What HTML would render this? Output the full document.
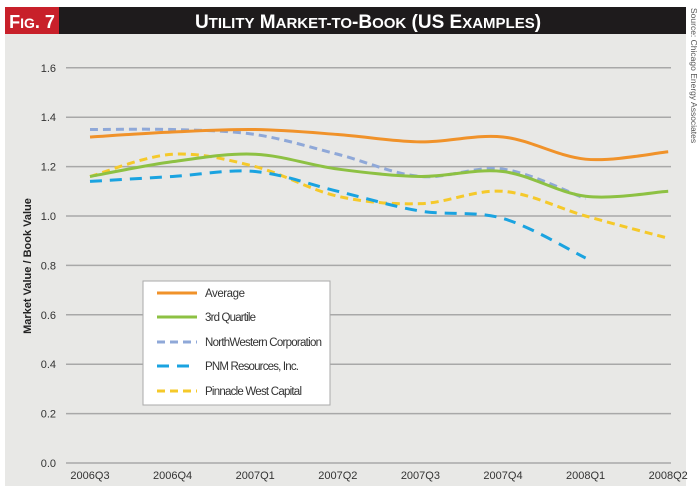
<!DOCTYPE html>
<html><head><style>
body{margin:0;width:700px;height:491px;background:#fff;overflow:hidden;font-family:"Liberation Sans",sans-serif}
</style></head><body>
<svg width="700" height="491" xmlns="http://www.w3.org/2000/svg" id="s">
<rect x="5" y="33" width="681" height="453" fill="#e8e8e6"/>
<rect x="5" y="7" width="681" height="27" fill="#1e1b1c"/>
<rect x="5" y="7" width="54" height="27" fill="#c8202a"/>
<text x="32" y="28" fill="#fff" font-size="18" font-weight="bold" text-anchor="middle" font-family="Liberation Sans Narrow, Liberation Sans, sans-serif">F<tspan font-size="14">IG</tspan>. 7</text>
<text x="368" y="28" fill="#fff" font-size="19" font-weight="bold" text-anchor="middle" font-family="Liberation Sans Narrow, Liberation Sans, sans-serif">U<tspan font-size="15">TILITY</tspan> M<tspan font-size="15">ARKET-TO</tspan>-B<tspan font-size="15">OOK</tspan> (US E<tspan font-size="15">XAMPLES</tspan>)</text>
<text transform="translate(691,8) rotate(90)" font-size="8.5" fill="#555">Source: Chicago Energy Associates</text>
<g id="grid" stroke="#a8a8a8" stroke-width="1.5"></g>
<g id="yl" font-size="11" fill="#333" text-anchor="end"></g>
<g id="xl" font-size="11" fill="#333" text-anchor="middle"></g>
<text transform="translate(31,266) rotate(-90)" font-size="11" font-weight="bold" fill="#222" text-anchor="middle">Market Value / Book Value</text>
<g id="lines" fill="none" stroke-width="3"></g>
<rect x="143" y="281" width="187" height="124" fill="#fff" stroke="#aaa"/>
<g stroke-width="3">
<line x1="157" y1="293" x2="197" y2="293" stroke="#f0922a"/>
<line x1="157" y1="317" x2="197" y2="317" stroke="#8dc143"/>
<line x1="157" y1="342" x2="197" y2="342" stroke="#8fa8d8" stroke-dasharray="8,5"/>
<line x1="157" y1="366" x2="197" y2="366" stroke="#1aa3e0" stroke-dasharray="12,8"/>
<line x1="157" y1="391" x2="197" y2="391" stroke="#f5c92a" stroke-dasharray="8,5"/>
</g>
<g font-size="11.5" fill="#333">
<text x="205" y="297" textLength="40">Average</text>
<text x="205" y="321" textLength="51">3rd Quartile</text>
<text x="205" y="346" textLength="117">NorthWestern Corporation</text>
<text x="205" y="370" textLength="94">PNM Resources, Inc.</text>
<text x="205" y="395" textLength="97">Pinnacle West Capital</text>
</g>
</svg>
<script>
var ns="http://www.w3.org/2000/svg";
function el(p,t,a,txt){var e=document.createElementNS(ns,t);for(var k in a)e.setAttribute(k,a[k]);if(txt)e.textContent=txt;document.getElementById(p).appendChild(e);}
function Y(v){return 463-v*247;}
for(var i=0;i<=8;i++){var v=i*0.2,y=Y(v);el("grid","line",{x1:66,x2:671,y1:y,y2:y});el("yl","text",{x:56,y:y+4},v.toFixed(1));}
var labs=["2006Q3","2006Q4","2007Q1","2007Q2","2007Q3","2007Q4","2008Q1","2008Q2"];
function X(i){return 90+i*82.6;}
labs.forEach(function(l,i){el("xl","text",{x:X(i),y:479},l);});
function path(d){var p=d.map(function(v,i){return [X(i),Y(v)];});var s="M"+p[0][0]+","+p[0][1];
for(var i=0;i<p.length-1;i++){var p0=p[Math.max(i-1,0)],p1=p[i],p2=p[i+1],p3=p[Math.min(i+2,p.length-1)];
s+=" C"+(p1[0]+(p2[0]-p0[0])/6)+","+(p1[1]+(p2[1]-p0[1])/6)+" "+(p2[0]-(p3[0]-p1[0])/6)+","+(p2[1]-(p3[1]-p1[1])/6)+" "+p2[0]+","+p2[1];}return s;}
var S=[
[[1.16,1.25,1.20,1.08,1.05,1.10,1.00,0.91],"#f5c92a","8,5"],
[[1.14,1.16,1.18,1.10,1.02,0.99,0.83],"#1aa3e0","12,8"],
[[1.35,1.35,1.33,1.25,1.16,1.19,1.07],"#8fa8d8","8,5"],
[[1.16,1.22,1.25,1.19,1.16,1.18,1.08,1.10],"#8dc143",""],
[[1.32,1.34,1.35,1.33,1.30,1.32,1.23,1.26],"#f0922a",""]];
S.forEach(function(s){var a={d:path(s[0]),stroke:s[1]};if(s[2])a["stroke-dasharray"]=s[2];el("lines","path",a);});
</script>
</body></html>
